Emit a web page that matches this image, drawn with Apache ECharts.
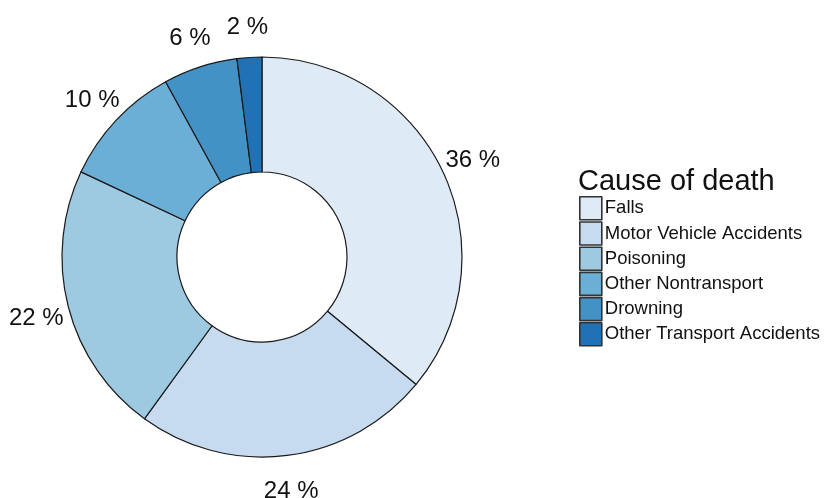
<!DOCTYPE html>
<html>
<head>
<meta charset="utf-8">
<script src="https://cdn.jsdelivr.net/npm/echarts@6/dist/echarts.min.js"></script>
<style>
  html, body { margin: 0; padding: 0; background: #fff; }
  #main { width: 825px; height: 498px; }
</style>
</head>
<body>
<div id="main"></div>
<script>
// cause of death shares, percent
var causes = ['Falls', 'Motor Vehicle Accidents', 'Poisoning', 'Other Nontransport', 'Drowning', 'Other Transport Accidents'];
var shares = [36, 24, 22, 10, 6, 2];
var blues = ['#deebf7', '#c6dbef', '#9ecae1', '#6baed6', '#4292c6', '#2171b5'];

var chart = echarts.init(document.getElementById('main'));

var sliceData = causes.map(function (c, i) {
    return {name: c, value: shares[i], itemStyle: {color: blues[i]}};
});
var labelData = causes.map(function (c, i) {
    return {name: c, value: shares[i]};
});

var font = '"Liberation Sans", Arial, sans-serif';

var option = {
    backgroundColor: '#ffffff',
    animation: false,
    title: {
        text: 'Cause of death',
        left: 573,
        top: 162,
        textStyle: {fontFamily: font, fontSize: 29, fontWeight: 'normal', color: '#111'}
    },
    legend: {
        orient: 'vertical',
        left: 574,
        top: 191,
        icon: 'rect',
        itemWidth: 22,
        itemHeight: 23,
        itemGap: 0.6,
        selectedMode: false,
        data: causes,
        itemStyle: {borderColor: '#333', borderWidth: 1.6},
        textStyle: {fontFamily: font, fontSize: 18.5, lineHeight: 20, color: '#111', padding: [0, 0, 0, -2]}
    },
    series: [
        {
            name: 'Cause of death',
            type: 'pie',
            center: [262, 257],
            radius: [85, 200],
            startAngle: 90,
            clockwise: true,
            label: {show: false},
            labelLine: {show: false},
            itemStyle: {borderColor: '#1a1a1a', borderWidth: 1.2},
            emphasis: {disabled: true},
            data: sliceData
        },
        {
            // transparent ring, only carries the percent labels
            name: 'labels',
            type: 'pie',
            center: [262, 260],
            radius: [218, 242],
            startAngle: 90,
            clockwise: true,
            silent: true,
            itemStyle: {color: 'transparent', borderWidth: 0},
            label: {
                show: true,
                position: 'inside',
                formatter: '{c} %',
                fontFamily: font,
                fontSize: 24,
                color: '#111'
            },
            labelLine: {show: false},
            emphasis: {disabled: true},
            data: labelData
        }
    ]
};
chart.setOption(option);
</script>
</body>
</html>
